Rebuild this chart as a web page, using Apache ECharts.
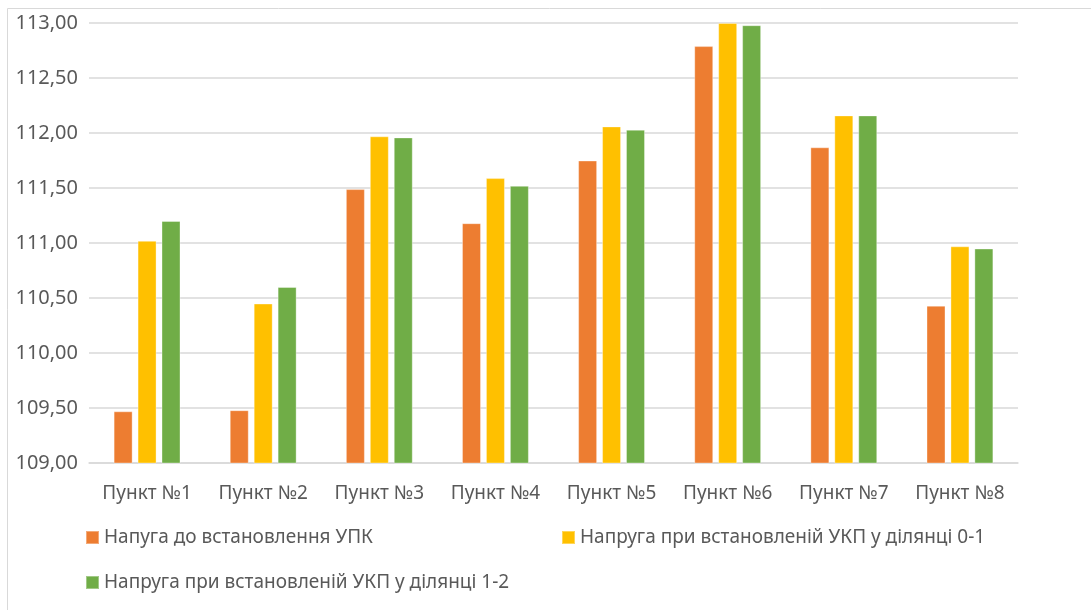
<!DOCTYPE html>
<html>
<head>
<meta charset="utf-8">
<script src="https://cdn.jsdelivr.net/npm/echarts@6/dist/echarts.min.js"></script>
<style>
  html, body { margin: 0; padding: 0; background: #fff; }
  #main { width: 1091px; height: 610px; }
</style>
</head>
<body>
<div id="main"></div>
<script>
// categories and values
const categories = ['Пункт №1', 'Пункт №2', 'Пункт №3', 'Пункт №4', 'Пункт №5', 'Пункт №6', 'Пункт №7', 'Пункт №8']
const seriesNames = [
  'Напуга до встановлення УПК',
  'Напруга при встановленій УКП у ділянці 0-1',
  'Напруга при встановленій УКП у ділянці 1-2',
]
const beforeUpk = [109.47, 109.48, 111.49, 111.18, 111.75, 112.79, 111.87, 110.43]
const section01 = [111.02, 110.45, 111.97, 111.59, 112.06, 113.00, 112.16, 110.97]
const section12 = [111.20, 110.60, 111.96, 111.52, 112.03, 112.98, 112.16, 110.95]
const colors = ['#ED7D31', '#FFC000', '#70AD47']

const font = 'Noto Sans'
const textColor = '#595959'

const chart = echarts.init(document.getElementById('main'))

const legendBase = {
  orient: 'horizontal',
  itemWidth: 13,
  itemHeight: 13,
  itemGap: 5,
  icon: 'rect',
  textStyle: { fontFamily: font, fontSize: 19, color: textColor, padding: [0, 0, 0, 0] },
  selectedMode: false,
  padding: 0,
}

const option = {
  animation: false,
  color: colors,
  graphic: [{
    type: 'rect',
    shape: { x: 7.5, y: 8.5, width: 1200, height: 700 },
    style: { fill: 'none', stroke: '#d9d9d9', lineWidth: 1 },
    silent: true,
  }],
  grid: { left: 89, right: 73, top: 23, bottom: 147, containLabel: false },
  legend: [
    Object.assign({}, legendBase, { left: 85, top: 528, data: [seriesNames[0]] }),
    Object.assign({}, legendBase, { left: 561, top: 528, data: [seriesNames[1]] }),
    Object.assign({}, legendBase, { left: 85, top: 573, data: [seriesNames[2]] }),
  ],
  xAxis: {
    type: 'category',
    data: categories,
    axisLine: { show: true, lineStyle: { color: '#d9d9d9', width: 1.5 } },
    axisTick: { show: false },
    axisLabel: { interval: 0, fontFamily: font, fontSize: 19, color: textColor, margin: 21 },
  },
  yAxis: {
    type: 'value',
    min: 109,
    max: 113,
    interval: 0.5,
    axisLine: { show: false },
    axisTick: { show: false },
    splitLine: { lineStyle: { color: '#d9d9d9', width: 1.5 } },
    axisLabel: {
      fontFamily: font, fontSize: 20, color: textColor, margin: 11,
      formatter: v => v.toFixed(2).replace('.', ','),
    },
  },
  series: [beforeUpk, section01, section12].map((d, i) => ({
    name: seriesNames[i],
    type: 'bar',
    data: d,
    barWidth: 19,
    barGap: '26%',
    itemStyle: { color: colors[i], borderColor: 'rgba(255,255,255,0.35)', borderWidth: 1 },
  })),
}

chart.setOption(option)
</script>
</body>
</html>
